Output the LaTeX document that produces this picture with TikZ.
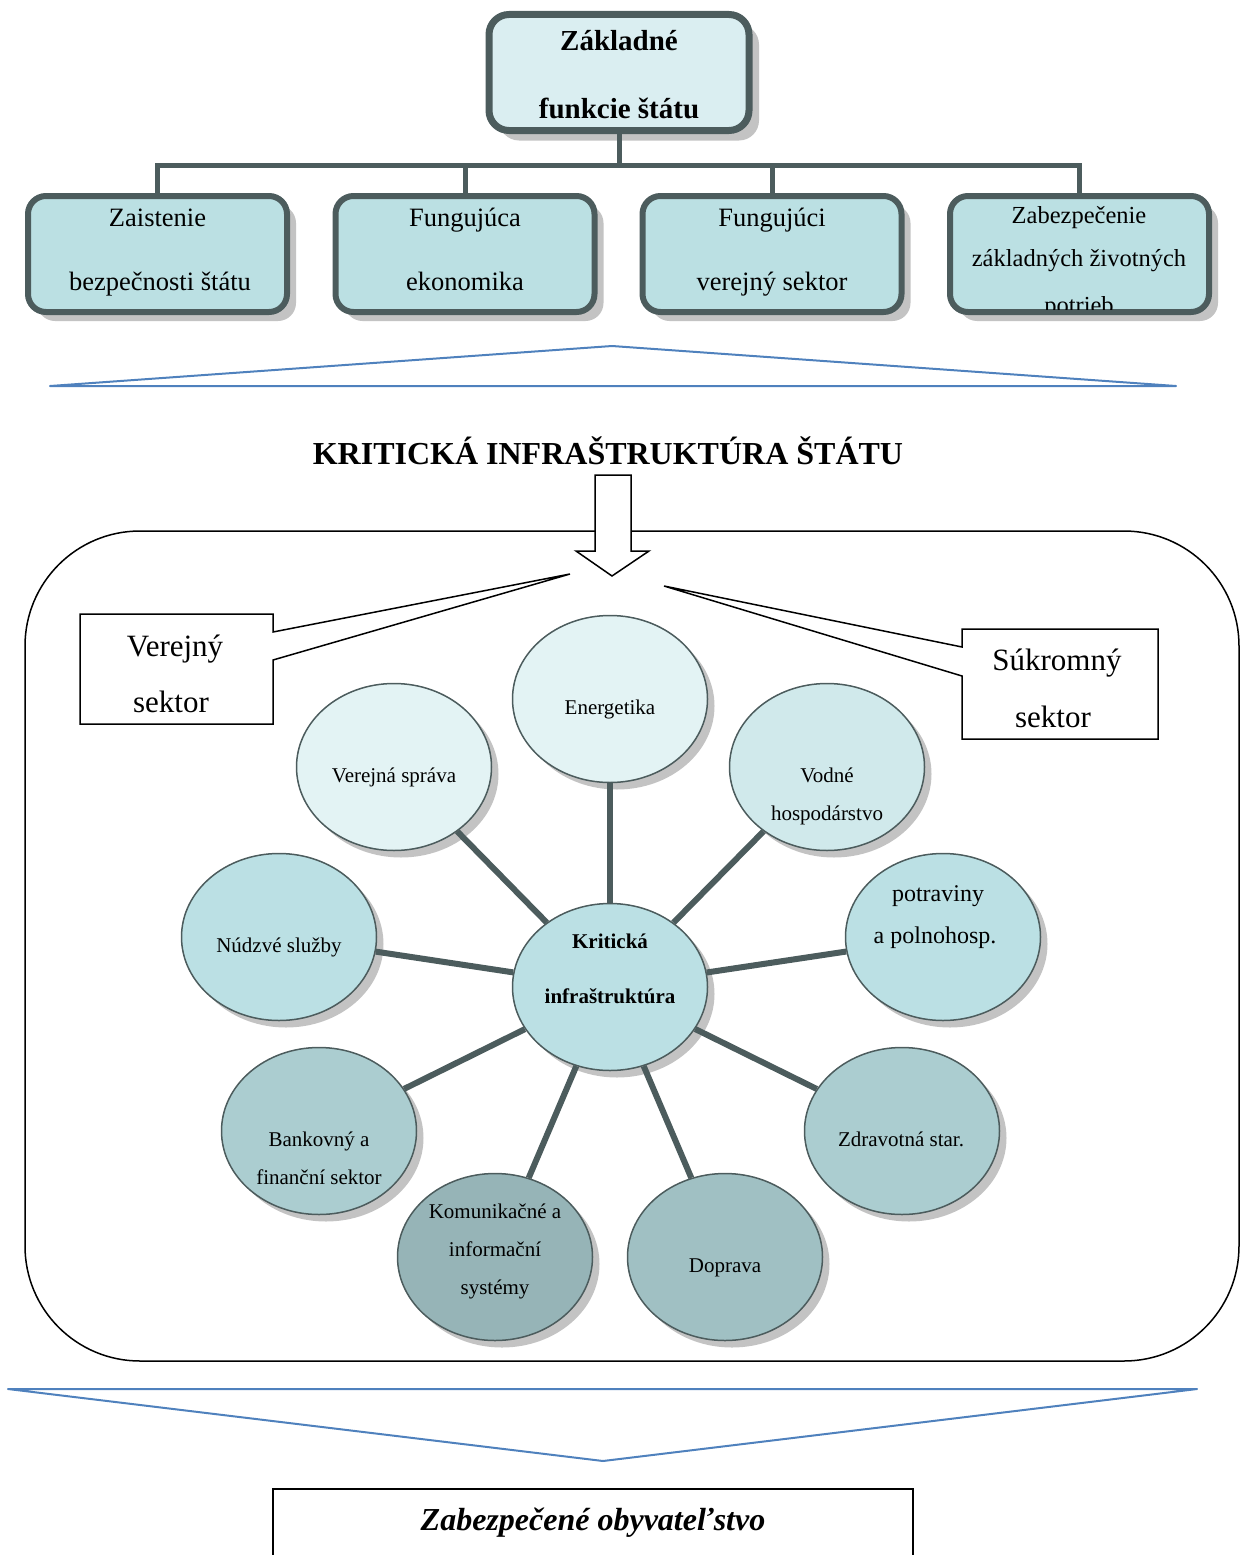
\documentclass[tikz,border=0pt]{standalone}
\usepackage{fontspec}
\setmainfont{Liberation Serif}
\usetikzlibrary{shapes.geometric,shadows}
\definecolor{edge}{RGB}{76,92,93}
\definecolor{topfill}{RGB}{218,238,241}
\definecolor{rowfill}{RGB}{187,224,227}
\definecolor{shadowcol}{RGB}{195,195,195}
\definecolor{blueline}{RGB}{79,129,189}
\definecolor{cA}{RGB}{227,243,244}
\definecolor{cB}{RGB}{208,233,235}
\definecolor{cC}{RGB}{187,224,228}
\definecolor{cD}{RGB}{171,205,208}
\definecolor{cE}{RGB}{160,192,195}
\definecolor{cF}{RGB}{150,180,183}
\newcommand\fstop{\fontsize{29pt}{32pt}\selectfont\bfseries}
\newcommand\fsrow{\fontsize{26.5pt}{30pt}\selectfont}
\newcommand\fsrowb{\fontsize{24.5pt}{28pt}\selectfont}
\newcommand\fscirc{\fontsize{21pt}{24pt}\selectfont}
\newcommand\fscircl{\fontsize{24pt}{27pt}\selectfont}
\newcommand\fscall{\fontsize{31pt}{34pt}\selectfont}
\newcommand\fstitle{\fontsize{32pt}{35pt}\selectfont\bfseries}
\newcommand\fsbottom{\fontsize{32pt}{35pt}\selectfont\bfseries\itshape}
\begin{document}
\begin{tikzpicture}[x=1pt,y=-1pt,
  txt/.style={anchor=base, inner sep=0pt, outer sep=0pt},
  topbox/.style={draw=edge, line width=7pt, fill=topfill, rounded corners=20pt,
    minimum width=260pt, minimum height=116pt, inner sep=0pt,
    drop shadow={shadow xshift=10pt, shadow yshift=-10pt, fill=shadowcol, opacity=1}},
  rowbox/.style={draw=edge, line width=6pt, fill=rowfill, rounded corners=18pt,
    minimum width=259pt, minimum height=116pt, inner sep=0pt,
    drop shadow={shadow xshift=9pt, shadow yshift=-9pt, fill=shadowcol, opacity=1}},
  tree/.style={draw=edge, line width=5pt},
  circ/.style={ellipse, draw=edge, line width=1.5pt, minimum width=195pt,
    minimum height=167pt, inner sep=0pt,
    drop shadow={shadow xshift=7pt, shadow yshift=-7pt, fill=shadowcol, opacity=1}},
  spoke/.style={draw=edge, line width=6pt},
  bluetri/.style={draw=blueline, line width=2pt, line join=round},
  thinblack/.style={draw=black, line width=1.5pt}
]
\useasboundingbox (0,0) rectangle (1245,1555);

% ---------- top tree ----------
\node[topbox] (top) at (619,72.5) {};
\node[txt] (topA) at (619,51) {\fstop Základné};
\node[txt] (topB) at (619,118) {\fstop funkcie štátu};

\node[rowbox] (b1) at (157.5,254) {};
\node[rowbox] (b2) at (465,254) {};
\node[rowbox] (b3) at (772,254) {};
\node[rowbox] (b4) at (1079.5,254) {};

\coordinate (bus) at (619,165);
\draw[tree] (top.south) -- (bus);
\draw[tree] (bus) -| (b1.north);
\draw[tree] (bus) -| (b2.north);
\draw[tree] (bus) -| (b3.north);
\draw[tree] (bus) -| (b4.north);

\node[txt] (b1a) at (157.5,226) {\fsrow Zaistenie};
\node[txt] (b1b) at (160,290) {\fsrow bezpečnosti štátu};
\node[txt] (b2a) at (465,226) {\fsrow Fungujúca};
\node[txt] (b2b) at (465,290) {\fsrow ekonomika};
\node[txt] (b3a) at (772,226) {\fsrow Fungujúci};
\node[txt] (b3b) at (772,290) {\fsrow verejný sektor};
\node[txt] (b4a) at (1079,223) {\fsrowb Zabezpečenie};
\node[txt] (b4b) at (1079,266) {\fsrowb základných životných};
\begin{scope}
  \clip (950,200) rectangle (1209,309);
  \node[txt] (b4c) at (1079,313) {\fsrowb potrieb};
\end{scope}

% ---------- upper blue triangle ----------
\draw[bluetri] (50,386) -- (612,346) -- (1176,386) -- cycle;

% ---------- title ----------
\node[txt] (title) at (608,464) {\fstitle KRITICKÁ INFRAŠTRUKTÚRA ŠTÁTU};

% ---------- big rounded frame ----------
\draw[thinblack, rounded corners=115pt] (25,531) rectangle (1239,1361);

% ---------- hollow down arrow ----------
\draw[thinblack, fill=white, line join=miter]
  (595,475) -- (631,475) -- (631,551) -- (649,551) -- (612,576)
  -- (576,551) -- (595,551) -- cycle;

% ---------- callouts ----------
\draw[thinblack, fill=white]
  (80,614) -- (273,614) -- (273,632) -- (570,574) -- (273,660)
  -- (273,724) -- (80,724) -- cycle;
\node[txt] (vsA) at (175,656) {\fscall Verejný};
\node[txt] (vsB) at (171,712) {\fscall sektor};

\draw[thinblack, fill=white]
  (962,629) -- (1158,629) -- (1158,739) -- (962,739) -- (962,676)
  -- (664,586) -- (962,647) -- cycle;
\node[txt] (ssA) at (1057,670) {\fscall Súkromný};
\node[txt] (ssB) at (1053,727) {\fscall sektor};

% ---------- circles ----------
\node[circ, fill=cA] (ener) at (610,699) {};
\node[circ, fill=cA] (verj) at (394,767) {};
\node[circ, fill=cB] (vodn) at (827,767) {};
\node[circ, fill=cC] (nudz) at (279,937) {};
\node[circ, fill=cC] (potr) at (943,937) {};
\node[circ, fill=cD] (bank) at (319,1131) {};
\node[circ, fill=cD] (zdra) at (902,1131) {};
\node[circ, fill=cF] (komu) at (495,1257) {};
\node[circ, fill=cE] (dopr) at (725,1257) {};
\node[circ, fill=cC] (kri) at (610,987) {};

\foreach \n in {ener,verj,vodn,nudz,potr,bank,zdra,komu,dopr}
  \draw[spoke] (kri) -- (\n);

\node[txt] (tEner) at (610,714) {\fscirc Energetika};
\node[txt] (tVerj) at (394,782) {\fscirc Verejná správa};
\node[txt] (tVod1) at (827,782) {\fscirc Vodné};
\node[txt] (tVod2) at (827,820) {\fscirc hospodárstvo};
\node[txt] (tNudz) at (279,952) {\fscirc Núdzvé služby};
\node[txt] (tPot1) at (938,901) {\fscircl potraviny};
\node[txt] (tPot2) at (935,943) {\fscircl a polnohosp.};
\node[txt] (tKri1) at (610,948) {\fscirc\bfseries Kritická};
\node[txt] (tKri2) at (610,1003) {\fscirc\bfseries infraštruktúra};
\node[txt] (tBan1) at (319,1146) {\fscirc Bankovný a};
\node[txt] (tBan2) at (319,1184) {\fscirc finanční sektor};
\node[txt] (tZdra) at (901,1146) {\fscirc Zdravotná star.};
\node[txt] (tKom1) at (495,1218) {\fscirc Komunikačné a};
\node[txt] (tKom2) at (495,1256) {\fscirc informační};
\node[txt] (tKom3) at (495,1294) {\fscirc systémy};
\node[txt] (tDopr) at (725,1272) {\fscirc Doprava};

% ---------- lower blue triangle ----------
\draw[bluetri] (8,1389) -- (1197,1389) -- (603,1461) -- cycle;

% ---------- bottom box ----------
\draw[thinblack] (273,1600) -- (273,1489) -- (913,1489) -- (913,1600);
\draw[draw=black, line width=2.5pt] (273,1489) -- (913,1489);
\node[txt] (bottom) at (593,1530) {\fsbottom Zabezpečené obyvateľstvo};
\end{tikzpicture}
\end{document}
